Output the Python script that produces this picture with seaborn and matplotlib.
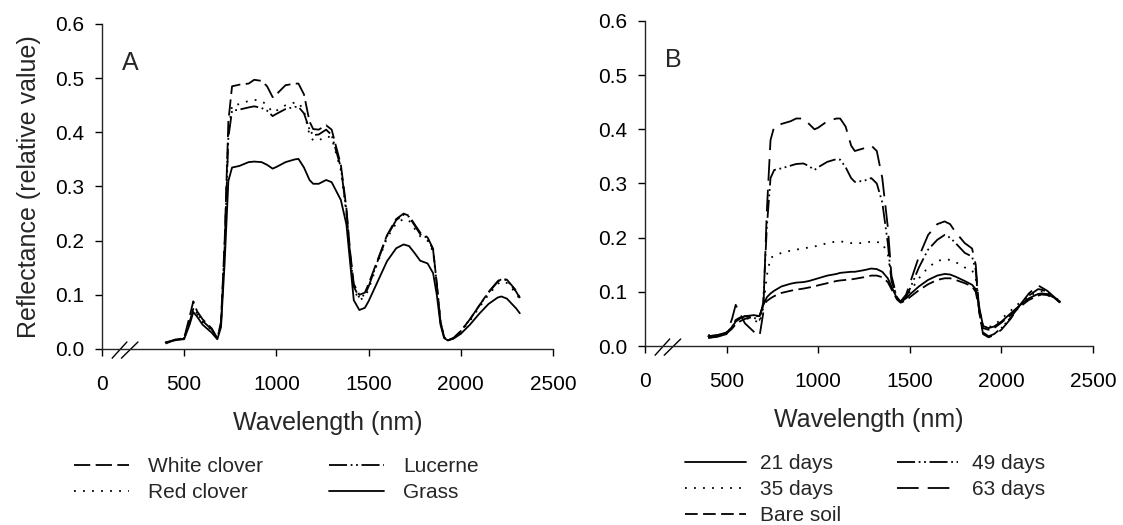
import numpy as np
import pandas as pd
import matplotlib
matplotlib.use("Agg")
import matplotlib.pyplot as plt
import seaborn as sns

# ---------------- data ----------------
wl_a = [400, 450, 500, 530, 550, 570, 600, 650, 680, 700, 720, 740, 760, 800, 850, 880, 920, 950,
        980, 1000, 1050, 1100, 1120, 1150, 1180, 1200, 1230, 1270, 1300, 1350, 1380, 1400, 1420,
        1450, 1480, 1500, 1550, 1600, 1650, 1690, 1720, 1750, 1780, 1820, 1850, 1870, 1890, 1910,
        1930, 1960, 2000, 2050, 2100, 2150, 2200, 2220, 2250, 2300, 2320]

white_clover = [.010, .017, .020, .060, .088, .070, .055, .038, .020, .050, .200, .420, .485, .488,
                .490, .497, .495, .485, .465, .470, .487, .490, .490, .470, .420, .406, .405, .413,
                .405, .340, .260, .180, .120, .100, .104, .120, .165, .210, .240, .250, .246, .230,
                .215, .206, .185, .120, .050, .022, .016, .020, .033, .055, .080, .105, .125, .130,
                .128, .108, .095]
red_clover = [.012, .017, .020, .050, .072, .065, .050, .035, .020, .045, .190, .400, .450, .452,
              .458, .460, .458, .450, .437, .440, .450, .455, .455, .440, .395, .385, .385, .393,
              .390, .330, .250, .170, .110, .090, .096, .110, .160, .205, .232, .240, .237, .222,
              .208, .200, .180, .120, .050, .022, .016, .020, .032, .052, .077, .100, .120, .125,
              .122, .103, .092]
lucerne = [.012, .016, .019, .050, .074, .066, .052, .036, .020, .045, .190, .390, .440, .442,
           .446, .448, .445, .440, .430, .434, .443, .447, .447, .435, .405, .395, .396, .405,
           .395, .335, .255, .175, .115, .095, .100, .115, .163, .208, .238, .248, .244, .228,
           .212, .205, .183, .120, .050, .022, .016, .020, .033, .055, .080, .104, .124, .129,
           .127, .106, .094]
grass = [.012, .017, .018, .045, .068, .060, .045, .030, .018, .040, .160, .310, .335, .338,
         .345, .346, .345, .340, .333, .336, .345, .350, .351, .335, .312, .305, .305, .312,
         .308, .275, .230, .160, .090, .072, .076, .088, .125, .162, .186, .193, .190, .177,
         .163, .158, .140, .100, .045, .020, .016, .019, .028, .045, .065, .083, .095, .097,
         .093, .075, .066]

wl_b = [400, 450, 500, 530, 550, 570, 600, 650, 680, 700, 720, 740, 760, 800, 850, 880, 920, 950,
        980, 1000, 1050, 1100, 1120, 1150, 1180, 1200, 1250, 1290, 1320, 1350, 1380, 1400, 1430,
        1450, 1480, 1500, 1550, 1600, 1650, 1690, 1720, 1750, 1800, 1840, 1860, 1880, 1900, 1930,
        1960, 2000, 2050, 2100, 2150, 2200, 2220, 2250, 2300, 2320]

days21 = [.018, .020, .025, .035, .045, .050, .055, .057, .055, .075, .090, .097, .102, .110,
          .115, .117, .118, .120, .123, .125, .130, .133, .135, .136, .137, .137, .140, .143,
          .142, .137, .125, .110, .088, .082, .088, .095, .110, .122, .130, .133, .132, .128,
          .120, .113, .105, .070, .037, .033, .036, .045, .060, .075, .088, .096, .097, .096,
          .087, .082]
days35 = [.020, .020, .025, .035, .045, .050, .052, .048, .042, .070, .130, .163, .166, .172,
          .176, .178, .180, .182, .184, .185, .190, .193, .193, .192, .190, .190, .190, .193,
          .192, .190, .170, .125, .088, .080, .090, .100, .125, .145, .157, .160, .159, .155,
          .145, .140, .125, .070, .037, .035, .038, .050, .065, .080, .092, .100, .101, .100,
          .088, .082]
bare_soil = [.015, .018, .023, .032, .040, .045, .050, .054, .056, .075, .083, .088, .092, .098,
             .102, .104, .106, .108, .110, .112, .116, .120, .121, .122, .123, .124, .127, .130,
             .130, .127, .118, .105, .086, .080, .084, .090, .103, .114, .122, .125, .125, .122,
             .116, .110, .100, .065, .033, .030, .033, .043, .057, .072, .085, .093, .095, .094,
             .086, .080]
days49 = [.018, .020, .024, .035, .048, .052, .055, .052, .048, .080, .220, .310, .325, .328,
          .333, .336, .337, .332, .325, .330, .340, .345, .344, .330, .310, .303, .305, .310,
          .300, .265, .190, .120, .090, .082, .090, .105, .145, .178, .196, .205, .200, .190,
          .172, .165, .140, .060, .025, .018, .022, .033, .052, .075, .093, .105, .104, .100,
          .086, .080]
days63 = [.015, .017, .022, .050, .076, .062, .042, .026, .018, .060, .250, .380, .405, .410,
          .415, .420, .420, .410, .400, .403, .415, .420, .420, .405, .370, .360, .365, .370,
          .360, .310, .220, .130, .090, .082, .095, .115, .165, .205, .225, .230, .225, .210,
          .190, .180, .150, .060, .022, .016, .020, .030, .050, .075, .097, .112, .108, .102,
          .087, .080]

names_a = ["White clover", "Red clover", "Lucerne", "Grass"]
series_a = [white_clover, red_clover, lucerne, grass]
names_b = ["21 days", "35 days", "Bare soil", "49 days", "63 days"]
series_b = [days21, days35, bare_soil, days49, days63]

xtick_pos = [55, 500, 1000, 1500, 2000, 2500]
xtick_labels = ["0", "500", "1000", "1500", "2000", "2500"]
ytick_pos = [0.0, 0.1, 0.2, 0.3, 0.4, 0.5, 0.6]

dashes_a = {"White clover": (9, 3), "Red clover": (1, 4), "Lucerne": (10, 2, 1, 2, 1, 2), "Grass": ""}
dashes_b = {"21 days": "", "35 days": (1, 4), "Bare soil": (7, 3), "49 days": (10, 2, 1, 2, 1, 2),
            "63 days": (12, 5)}

df_a = pd.concat([pd.DataFrame({"wl": wl_a, "refl": s, "series": n}) for n, s in zip(names_a, series_a)])
df_b = pd.concat([pd.DataFrame({"wl": wl_b, "refl": s, "series": n}) for n, s in zip(names_b, series_b)])

# ---------------- style ----------------
sns.set_style("ticks")
plt.rcParams["font.family"] = ["Liberation Sans", "DejaVu Sans"]
plt.rcParams["axes.linewidth"] = 1.0

fig = plt.figure(figsize=(11.23, 5.25), dpi=100)
ax_a = fig.add_axes([102 / 1123, 1 - 349 / 525, 451 / 1123, 325 / 525])
ax_b = fig.add_axes([645 / 1123, 1 - 346 / 525, 448 / 1123, 325 / 525])

for ax, df, names, dashes, letter in [(ax_a, df_a, names_a, dashes_a, "A"),
                                      (ax_b, df_b, names_b, dashes_b, "B")]:
    sns.lineplot(data=df, x="wl", y="refl", style="series", style_order=names, dashes=dashes,
                 color="black", linewidth=1.3, ax=ax, legend=True, sort=False)
    ax.set_xlim(55, 2500)
    ax.set_ylim(0, 0.6)
    ax.set_xticks(xtick_pos)
    ax.set_xticklabels(xtick_labels)
    ax.set_yticks(ytick_pos)
    ax.set_yticklabels([f"{v:.1f}" for v in ytick_pos])
    ax.tick_params(direction="out", length=5, width=1, labelsize=15, colors="black")
    ax.tick_params(axis="x", pad=14)
    ax.tick_params(axis="y", pad=8)
    for sp in ["top", "right"]:
        ax.spines[sp].set_visible(False)
    ax.set_xlabel("Wavelength (nm)", fontsize=18, labelpad=12)
    ax.set_ylabel("")
    ax.text(0.045, 0.88, letter, transform=ax.transAxes, fontsize=18, va="center", ha="left")
    # axis break marks
    ax.plot([110, 190], [-0.017, 0.013], color="black", lw=1, clip_on=False)
    ax.plot([160, 250], [-0.017, 0.013], color="black", lw=1, clip_on=False)

ax_a.set_ylabel("Reflectance (relative value)", fontsize=18, labelpad=10)

handles_a, labels_a = ax_a.get_legend_handles_labels()
ax_a.legend(handles_a, labels_a, ncol=2, frameon=False, fontsize=15, loc="upper left",
            bbox_to_anchor=(74 / 1123, 1 - 457 / 525), bbox_transform=fig.transFigure,
            borderpad=0, borderaxespad=0, handlelength=2.64, handletextpad=0.9,
            columnspacing=3.2, labelspacing=0.34)
handles_b, labels_b = ax_b.get_legend_handles_labels()
ax_b.legend(handles_b, labels_b, ncol=2, frameon=False, fontsize=15, loc="upper left",
            bbox_to_anchor=(685 / 1123, 1 - 454 / 525), bbox_transform=fig.transFigure,
            borderpad=0, borderaxespad=0, handlelength=2.93, handletextpad=0.67,
            columnspacing=2.7, labelspacing=0.34)

fig.savefig("out.png", dpi=100)
